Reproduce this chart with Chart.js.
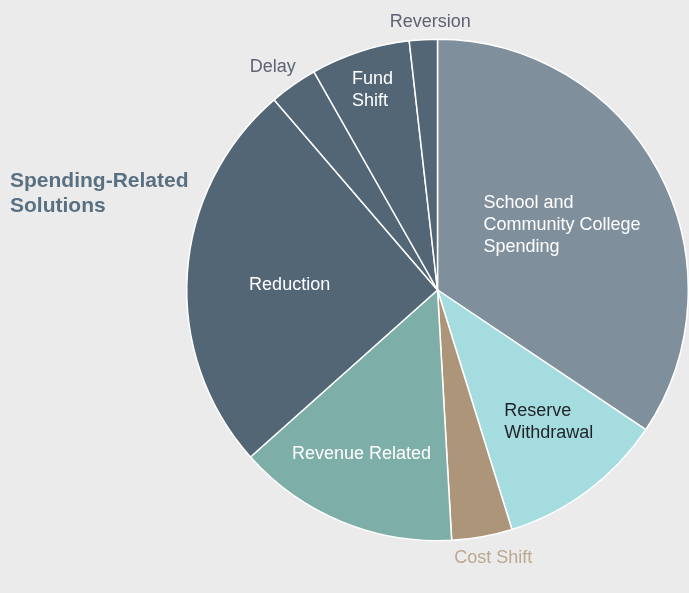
<!DOCTYPE html>
<html>
<head>
<meta charset="utf-8">
<script src="https://cdn.jsdelivr.net/npm/chart.js@4/dist/chart.umd.min.js"></script>
<style>
  html, body { margin: 0; padding: 0; background: #ebebeb; overflow: hidden; }
  #wrap { position: relative; width: 689px; height: 593px; }
  #title {
    position: absolute; left: 10px; top: 167px;
    font: bold 21px "Liberation Sans", Arial, sans-serif; line-height: 25px;
    color: #587082;
  }
</style>
</head>
<body>
<div id="wrap">
  <canvas id="chart" width="689" height="593"></canvas>
  <div id="title">Spending-Related<br>Solutions</div>
</div>
<script>
  const categories = [
    ["School and", "Community College", "Spending"],
    ["Reserve", "Withdrawal"],
    ["Cost Shift"],
    ["Revenue Related"],
    ["Reduction"],
    ["Delay"],
    ["Fund", "Shift"],
    ["Reversion"]
  ];
  // share of total, percent
  const values = [34.4, 10.8, 3.9, 14.3, 25.3, 3.1, 6.4, 1.8];

  const sliceColors = ["#7f8f9b", "#a5dce0", "#ac9579", "#7daea7", "#526676", "#526676", "#526676", "#526676"];
  const textColors = ["#ffffff", "#1f2328", "#bba88f", "#ffffff", "#ffffff", "#5e6272", "#ffffff", "#5e6272"];
  // label distance from centre as a fraction of the radius, and an angle nudge in degrees
  const labelRadius = [0.56, 0.69, 1.09, 0.72, 0.59, 1.105, 0.84, 1.07];
  const labelNudge = [0.5, -3.3, -1.5, 2.4, -1.9, -1.4, 0, 1.7];

  const sliceLabels = {
    id: "sliceLabels",
    afterDatasetsDraw(chart) {
      const ctx = chart.ctx;
      const meta = chart.getDatasetMeta(0);
      ctx.save();
      ctx.font = "18px 'Liberation Sans', Arial, sans-serif";
      ctx.textBaseline = "middle";
      ctx.textAlign = "left";
      meta.data.forEach((arc, i) => {
        const p = arc.getProps(["x", "y", "startAngle", "endAngle", "outerRadius"], true);
        const mid = (p.startAngle + p.endAngle) / 2 + labelNudge[i] * Math.PI / 180;
        const r = p.outerRadius * labelRadius[i];
        const cx = p.x + Math.cos(mid) * r;
        const cy = p.y + Math.sin(mid) * r;
        const lines = categories[i];
        const w = Math.max(...lines.map(l => ctx.measureText(l).width));
        const lh = 22;
        const top = cy - (lines.length - 1) * lh / 2;
        ctx.fillStyle = textColors[i];
        lines.forEach((l, k) => ctx.fillText(l, cx - w / 2, top + k * lh));
      });
      ctx.restore();
    }
  };

  new Chart(document.getElementById("chart"), {
    type: "pie",
    data: {
      labels: categories.map(c => c.join(" ")),
      datasets: [{
        data: values,
        backgroundColor: sliceColors,
        borderColor: "#ffffff",
        borderWidth: 1.5
      }]
    },
    options: {
      responsive: false,
      animation: false,
      layout: { padding: { left: 186, right: 0, top: 38, bottom: 51 } },
      plugins: { legend: { display: false }, tooltip: { enabled: false } }
    },
    plugins: [sliceLabels]
  });
</script>
</body>
</html>
